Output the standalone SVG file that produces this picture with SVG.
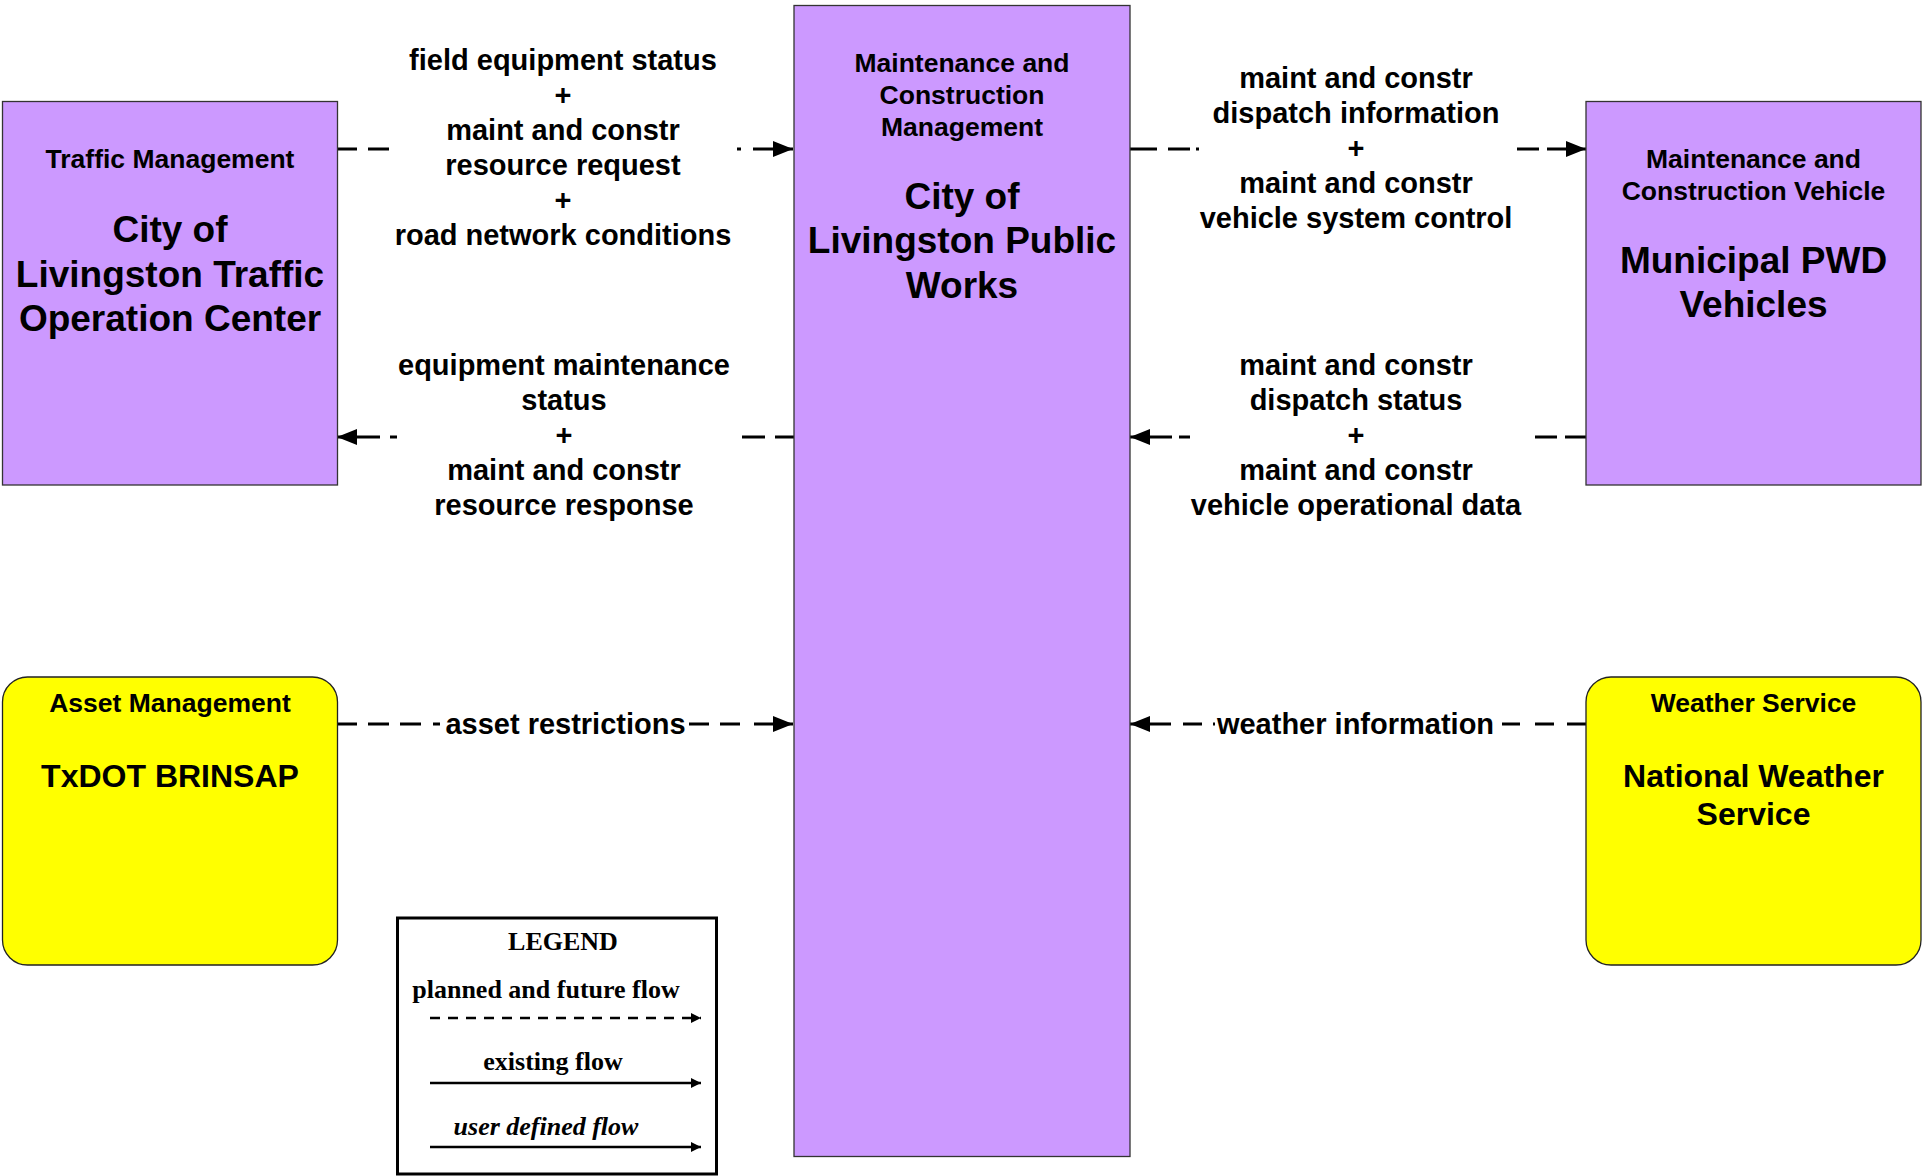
<svg xmlns="http://www.w3.org/2000/svg" width="1923" height="1176" viewBox="0 0 1923 1176">
<style>
.bg{fill:#ffffff}
.pbox{fill:#CC99FF;stroke:#333333;stroke-width:1.3}
.ybox{fill:#FFFF00;stroke:#222222;stroke-width:1.3}
.t{font-family:"Liberation Sans",Arial,sans-serif;font-weight:bold;fill:#000;text-anchor:middle}
.title{font-size:26.5px}
.big{font-size:37px}
.ybig{font-size:32px}
.lbl{font-size:29px}
.flow{fill:none;stroke:#000;stroke-width:2.8}
.leg{font-family:"Liberation Serif","Times New Roman",serif;font-weight:bold;font-size:26px;fill:#000;text-anchor:middle}
.legline{fill:none;stroke:#000;stroke-width:2.5}
</style>
<defs>
<marker id="ah" markerUnits="userSpaceOnUse" markerWidth="20" markerHeight="16" refX="20" refY="8" orient="auto">
<path d="M0,0 L20,8 L0,16 z" fill="#000"/>
</marker>
<marker id="ahs" markerUnits="userSpaceOnUse" markerWidth="10" markerHeight="10" refX="10" refY="5" orient="auto">
<path d="M0,0 L10,5 L0,10 z" fill="#000"/>
</marker>
</defs>
<rect class="bg" x="0" y="0" width="1923" height="1176"/>

<g id="connectors">
<path class="flow" marker-end="url(#ah)" d="M337,149 L357,149 M368,149 L389,149 M737,149 L741,149 M753,149 L793,149"/>
<path class="flow" marker-end="url(#ah)" d="M1130,149 L1157,149 M1168,149 L1190,149 M1196,149 L1199,149 M1517,149 L1539,149 M1547,149 L1586,149"/>
<path class="flow" marker-end="url(#ah)" d="M794,437 L775,437 M765,437 L742,437 M397,437 L390,437 M380,437 L337,437"/>
<path class="flow" marker-end="url(#ah)" d="M1586,437 L1565,437 M1557,437 L1535,437 M1190,437 L1179,437 M1172,437 L1130,437"/>
<path class="flow" marker-end="url(#ah)" d="M337,724 L357,724 M368,724 L389,724 M400,724 L421,724 M433,724 L440,724 M689,724 L709,724 M720,724 L740,724 M754,724 L793,724"/>
<path class="flow" marker-end="url(#ah)" d="M1586,724 L1567,724 M1554,724 L1535,724 M1520,724 L1502,724 M1215,724 L1213,724 M1202,724 L1183,724 M1171,724 L1130,724"/>
<text class="t lbl" x="563" y="69.5">field equipment status</text>
<text class="t lbl" x="563" y="104.5">+</text>
<text class="t lbl" x="563" y="139.5">maint and constr</text>
<text class="t lbl" x="563" y="174.5">resource request</text>
<text class="t lbl" x="563" y="209.5">+</text>
<text class="t lbl" x="563" y="244.5">road network conditions</text>
<text class="t lbl" x="564" y="375">equipment maintenance</text>
<text class="t lbl" x="564" y="410">status</text>
<text class="t lbl" x="564" y="445">+</text>
<text class="t lbl" x="564" y="480">maint and constr</text>
<text class="t lbl" x="564" y="515">resource response</text>
<text class="t lbl" x="1356" y="88">maint and constr</text>
<text class="t lbl" x="1356" y="123">dispatch information</text>
<text class="t lbl" x="1356" y="158">+</text>
<text class="t lbl" x="1356" y="193">maint and constr</text>
<text class="t lbl" x="1356" y="228">vehicle system control</text>
<text class="t lbl" x="1356" y="375">maint and constr</text>
<text class="t lbl" x="1356" y="410">dispatch status</text>
<text class="t lbl" x="1356" y="445">+</text>
<text class="t lbl" x="1356" y="480">maint and constr</text>
<text class="t lbl" x="1356" y="515">vehicle operational data</text>
<text class="t lbl" x="565.5" y="734">asset restrictions</text>
<text class="t lbl" x="1355.5" y="734">weather information</text>
</g>

<g id="node-traffic">
<rect class="pbox" x="2.5" y="101.5" width="335" height="383.5"/>
<text class="t title" x="170" y="168">Traffic Management</text>
<text class="t big" x="170" y="242">City of</text>
<text class="t big" x="170" y="286.5">Livingston Traffic</text>
<text class="t big" x="170" y="331">Operation Center</text>
</g>

<g id="node-publicworks">
<rect class="pbox" x="794" y="5.5" width="336" height="1151"/>
<text class="t title" x="962" y="72">Maintenance and</text>
<text class="t title" x="962" y="104">Construction</text>
<text class="t title" x="962" y="136">Management</text>
<text class="t big" x="962" y="208.5">City of</text>
<text class="t big" x="962" y="253">Livingston Public</text>
<text class="t big" x="962" y="297.5">Works</text>
</g>

<g id="node-vehicles">
<rect class="pbox" x="1586" y="101.5" width="335" height="383.5"/>
<text class="t title" x="1753.5" y="168">Maintenance and</text>
<text class="t title" x="1753.5" y="200">Construction Vehicle</text>
<text class="t big" x="1753.5" y="273">Municipal PWD</text>
<text class="t big" x="1753.5" y="317">Vehicles</text>
</g>

<g id="node-txdot">
<rect class="ybox" x="2.5" y="677" width="335" height="288" rx="25" ry="25"/>
<text class="t title" x="170" y="711.5">Asset Management</text>
<text class="t ybig" x="170" y="787">TxDOT BRINSAP</text>
</g>

<g id="node-weather">
<rect class="ybox" x="1586" y="677" width="335" height="288" rx="25" ry="25"/>
<text class="t title" x="1753.5" y="711.5">Weather Service</text>
<text class="t ybig" x="1753.5" y="787">National Weather</text>
<text class="t ybig" x="1753.5" y="825">Service</text>
</g>

<g id="legend">
<rect x="397.5" y="918" width="319" height="256" fill="#fff" stroke="#000" stroke-width="3"/>
<text class="leg" x="563" y="950">LEGEND</text>
<text class="leg" x="546" y="998">planned and future flow</text>
<line class="legline" x1="430" y1="1018" x2="701" y2="1018" stroke-dasharray="10 8" marker-end="url(#ahs)"/>
<text class="leg" x="553" y="1070">existing flow</text>
<line class="legline" x1="430" y1="1083" x2="701" y2="1083" marker-end="url(#ahs)"/>
<text class="leg" x="546" y="1135" font-style="italic">user defined flow</text>
<line class="legline" x1="430" y1="1147" x2="701" y2="1147" marker-end="url(#ahs)"/>
</g>
</svg>
